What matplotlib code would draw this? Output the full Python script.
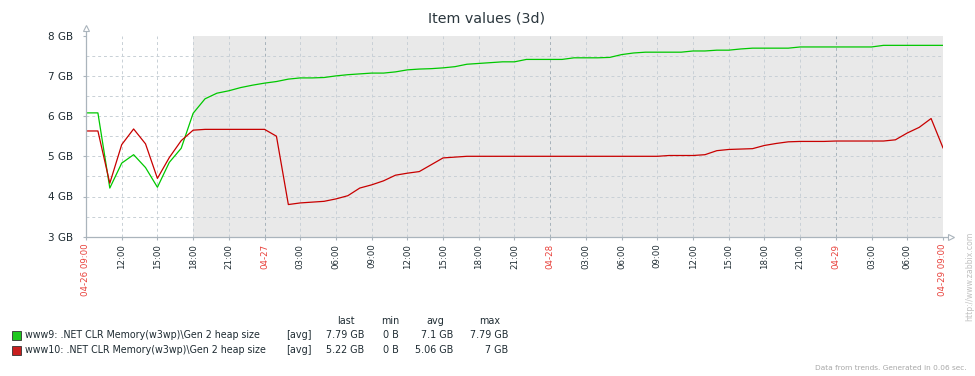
import matplotlib
matplotlib.use("Agg")
import matplotlib.pyplot as plt
from matplotlib.patches import Rectangle
import numpy as np

# hourly trend values (GB), 04-26 09:00 .. 04-29 09:00
www9 = [6.08, 6.08, 4.21, 4.83, 5.04, 4.72, 4.23, 4.85, 5.20, 6.07,
        6.43, 6.57, 6.63, 6.71, 6.77, 6.82, 6.86, 6.92, 6.95, 6.95,
        6.96, 7.00, 7.03, 7.05, 7.07, 7.07, 7.10, 7.15, 7.17, 7.18,
        7.20, 7.23, 7.29, 7.31, 7.33, 7.35, 7.35, 7.41, 7.41, 7.41,
        7.41, 7.45, 7.45, 7.45, 7.46, 7.53, 7.57, 7.59, 7.59, 7.59,
        7.59, 7.62, 7.62, 7.64, 7.64, 7.67, 7.69, 7.69, 7.69, 7.69,
        7.72, 7.72, 7.72, 7.72, 7.72, 7.72, 7.72, 7.76, 7.76, 7.76,
        7.76, 7.76, 7.76]
www10 = [5.63, 5.63, 4.33, 5.29, 5.68, 5.31, 4.45, 4.97, 5.39, 5.65,
         5.67, 5.67, 5.67, 5.67, 5.67, 5.67, 5.50, 3.80, 3.84, 3.86,
         3.88, 3.94, 4.02, 4.21, 4.29, 4.39, 4.53, 4.58, 4.62, 4.79,
         4.96, 4.98, 5.00, 5.00, 5.00, 5.00, 5.00, 5.00, 5.00, 5.00,
         5.00, 5.00, 5.00, 5.00, 5.00, 5.00, 5.00, 5.00, 5.00, 5.02,
         5.02, 5.02, 5.04, 5.14, 5.17, 5.18, 5.19, 5.27, 5.32, 5.36,
         5.37, 5.37, 5.37, 5.38, 5.38, 5.38, 5.38, 5.38, 5.41, 5.58,
         5.72, 5.94, 5.21]

x_labels = ["04-26 09:00", "12:00", "15:00", "18:00", "21:00", "04-27",
            "03:00", "06:00", "09:00", "12:00", "15:00", "18:00", "21:00", "04-28",
            "03:00", "06:00", "09:00", "12:00", "15:00", "18:00", "21:00", "04-29",
            "03:00", "06:00", "04-29 09:00"]
y_labels = ["3 GB", "4 GB", "5 GB", "6 GB", "7 GB", "8 GB"]

legend_names = ["www9: .NET CLR Memory(w3wp)\\Gen 2 heap size",
                "www10: .NET CLR Memory(w3wp)\\Gen 2 heap size"]
legend_last = ["7.79 GB", "5.22 GB"]
legend_min = ["0 B", "0 B"]
legend_avg = ["7.1 GB", "5.06 GB"]
legend_max = ["7.79 GB", "7 GB"]

GREEN = "#00c800"
RED = "#c80000"
AXIS = "#aab4bc"
GRID = "#c8d0d6"
TEXT = "#1f2c33"
DATE_RED = "#e8403a"

W, H = 975, 376
plt.rcParams["font.family"] = "DejaVu Sans"
fig = plt.figure(figsize=(W / 100, H / 100), dpi=100)
ax = fig.add_axes([86 / W, (H - 236.7) / H, 857 / W, 201 / H])

hours = np.arange(len(www9))
ax.set_xlim(0, 72)
ax.set_ylim(3, 8)

ax.axvspan(9, 72, color="#e9e9e9", zorder=0, lw=0)

for v in np.arange(3.5, 8, 0.5):
    ax.axhline(v, color=GRID, lw=0.7, ls=(0, (3, 3)), zorder=1)
for i in range(1, len(x_labels)):
    day = x_labels[i].startswith("04-")
    ax.axvline(i * 3, color="#a6b2ba" if day else GRID, lw=0.7, ls=(0, (3, 3)), zorder=1)

ax.plot(hours, www9, color=GREEN, lw=0.9, zorder=3)
ax.plot(hours, www10, color=RED, lw=0.9, zorder=3)

for s in ax.spines.values():
    s.set_visible(False)

# axes with arrows
ax.plot([0, 0], [3, 8.17], color=AXIS, lw=0.9, clip_on=False, zorder=4)
ax.plot([0], [8.2], marker="^", ms=5, mfc="white", mec=AXIS, mew=0.8, clip_on=False, zorder=5)
ax.plot([0, 72.6], [3, 3], color=AXIS, lw=0.9, clip_on=False, zorder=4)
ax.plot([72.7], [3], marker=">", ms=5, mfc="white", mec=AXIS, mew=0.8, clip_on=False, zorder=5)

ax.set_yticks(range(3, 9))
ax.set_yticklabels(y_labels, fontsize=7.5, color=TEXT)
ax.set_xticks(range(0, 73, 3))
ax.set_xticklabels(x_labels, rotation=90, fontsize=6.2)
for lbl in ax.get_xticklabels():
    lbl.set_color(DATE_RED if lbl.get_text().startswith("04-") else TEXT)
ax.tick_params(axis="both", color=AXIS, length=2, width=0.8)
ax.tick_params(axis="y", pad=7)
ax.tick_params(axis="x", pad=3)

fig.text(0.499, 1 - 18 / H, "Item values (3d)", ha="center", va="center",
         fontsize=10.3, color="#2a363d")

# legend table
def fx(px):
    return px / W

def fy(py):
    return 1 - py / H

hdr_y = 321.5
for label, cx in [("last", 346), ("min", 390), ("avg", 435), ("max", 490)]:
    fig.text(fx(cx), fy(hdr_y), label, ha="center", va="center", fontsize=6.9, color=TEXT)

for row, name in enumerate(legend_names):
    y = 335.5 + row * 14.5
    fig.add_artist(Rectangle((fx(12), fy(y + 4.5)), 9 / W, 9 / H, transform=fig.transFigure,
                             facecolor="#1ec81e" if row == 0 else "#c81e1e",
                             edgecolor="#333333", lw=0.6))
    fig.text(fx(25), fy(y), name, ha="left", va="center", fontsize=6.85, color=TEXT)
    fig.text(fx(286), fy(y), "[avg]", ha="left", va="center", fontsize=6.9, color=TEXT)
    fig.text(fx(364.5), fy(y), legend_last[row], ha="right", va="center", fontsize=6.9, color=TEXT)
    fig.text(fx(398.5), fy(y), legend_min[row], ha="right", va="center", fontsize=6.9, color=TEXT)
    fig.text(fx(453.5), fy(y), legend_avg[row], ha="right", va="center", fontsize=6.9, color=TEXT)
    fig.text(fx(508.5), fy(y), legend_max[row], ha="right", va="center", fontsize=6.9, color=TEXT)

fig.text(fx(967), fy(368), "Data from trends. Generated in 0.06 sec.", ha="right", va="center",
         fontsize=5.3, color="#a8a8a8")
fig.text(fx(970), fy(276), "http://www.zabbix.com", rotation=90, ha="center", va="center",
         fontsize=5.6, color="#c0c0c0")

fig.savefig("out.png", dpi=100)
